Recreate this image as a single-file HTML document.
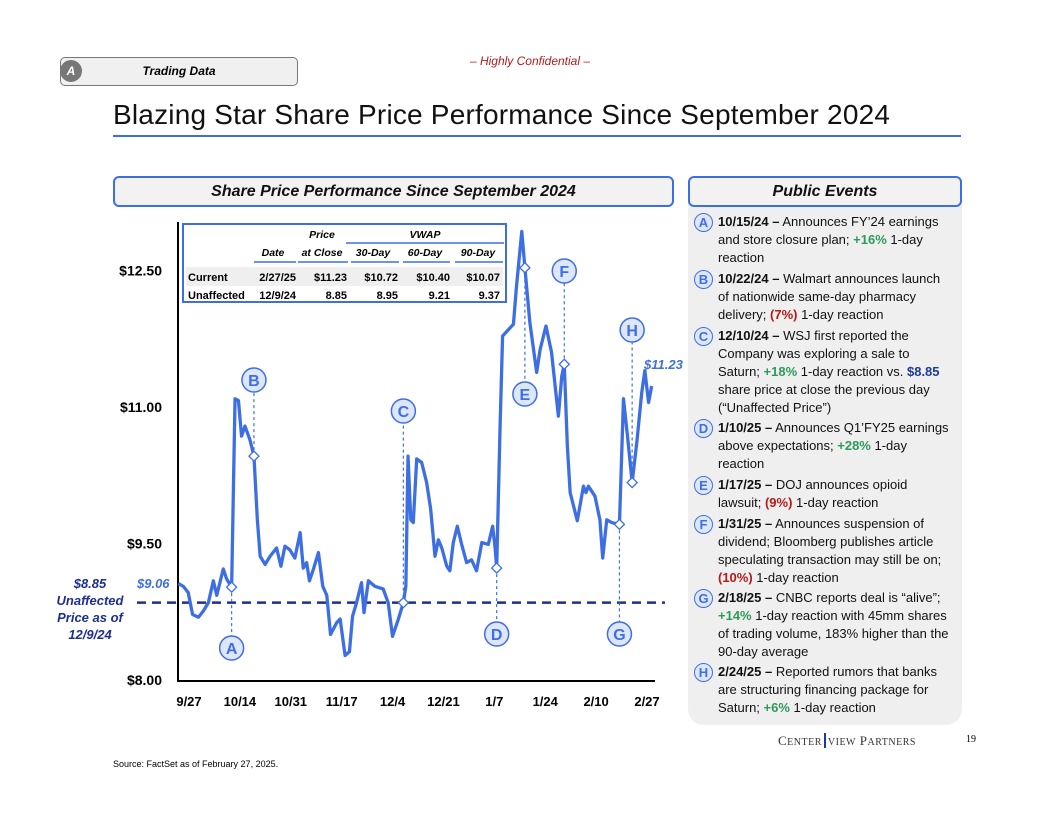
<!DOCTYPE html>
<html><head><meta charset="utf-8"><style>
body{margin:0;width:1056px;height:816px;position:relative;background:#fff;font-family:"Liberation Sans",sans-serif;overflow:hidden}
.abs{position:absolute}
.hdr{position:absolute;border:2px solid #3d6fe3;border-radius:6px;background:#f2f2f2;font-weight:bold;font-style:italic;font-size:16px;text-align:center;box-sizing:border-box;color:#111}
.ev{position:absolute;left:718px;font-size:13px;line-height:18px;white-space:nowrap;color:#111}
.ev b{font-weight:bold}
.circ{position:absolute;left:694px;width:17px;height:17px;border:1.5px solid #3d6fe3;border-radius:50%;background:#dde6fb;color:#3d6fe3;font-weight:bold;font-size:13px;text-align:center;line-height:17px}
.g{color:#2e9a5a;font-weight:bold}.r{color:#b31b1b;font-weight:bold}.bl{color:#1d3b9c;font-weight:bold}
</style></head><body>
<div class="abs" style="left:60px;top:57px;width:238px;height:29px;border:1.5px solid #777;border-radius:5px;background:#f0f0f0;box-sizing:border-box;font-weight:bold;font-style:italic;font-size:12px;text-align:center;line-height:26px">Trading Data</div>
<div class="abs" style="left:60px;top:60px;width:22px;height:22px;border-radius:50%;background:#777;color:#fff;font-weight:bold;font-style:italic;font-size:12px;text-align:center;line-height:22px">A</div>
<div class="abs" style="left:440px;top:54px;width:180px;text-align:center;color:#b31b1b;font-style:italic;font-size:12px">– Highly Confidential –</div>
<div class="abs" style="left:113px;top:99px;font-size:28px;letter-spacing:0.2px;color:#111;white-space:nowrap">Blazing Star Share Price Performance Since September 2024</div>
<div class="abs" style="left:113px;top:135px;width:848px;height:1.5px;background:#3d6fe3"></div>
<div class="hdr" style="left:113px;top:176px;width:561px;height:31px;line-height:27px">Share Price Performance Since September 2024</div>
<div class="abs" style="left:688px;top:200px;width:274px;height:525px;background:#efefef;border-radius:0 0 16px 16px"></div>
<div class="hdr" style="left:688px;top:176px;width:274px;height:31px;line-height:27px">Public Events</div>

<div class="circ" style="top:213px">A</div>
<div class="ev" style="top:213px"><b>10/15/24 –</b> Announces FY’24 earnings<br>and store closure plan; <span class="g">+16%</span> 1-day<br>reaction</div>
<div class="circ" style="top:270px">B</div>
<div class="ev" style="top:270px"><b>10/22/24 –</b> Walmart announces launch<br>of nationwide same-day pharmacy<br>delivery; <span class="r">(7%)</span> 1-day reaction</div>
<div class="circ" style="top:327px">C</div>
<div class="ev" style="top:327px"><b>12/10/24 –</b> WSJ first reported the<br>Company was exploring a sale to<br>Saturn; <span class="g">+18%</span> 1-day reaction vs. <span class="bl">$8.85</span><br>share price at close the previous day<br>(“Unaffected Price”)</div>
<div class="circ" style="top:419px">D</div>
<div class="ev" style="top:419px"><b>1/10/25 –</b> Announces Q1’FY25 earnings<br>above expectations; <span class="g">+28%</span> 1-day<br>reaction</div>
<div class="circ" style="top:476px">E</div>
<div class="ev" style="top:476px"><b>1/17/25 –</b> DOJ announces opioid<br>lawsuit; <span class="r">(9%)</span> 1-day reaction</div>
<div class="circ" style="top:515px">F</div>
<div class="ev" style="top:515px"><b>1/31/25 –</b> Announces suspension of<br>dividend; Bloomberg publishes article<br>speculating transaction may still be on;<br><span class="r">(10%)</span> 1-day reaction</div>
<div class="circ" style="top:589px">G</div>
<div class="ev" style="top:589px"><b>2/18/25 –</b> CNBC reports deal is “alive”;<br><span class="g">+14%</span> 1-day reaction with 45mm shares<br>of trading volume, 183% higher than the<br>90-day average</div>
<div class="circ" style="top:663px">H</div>
<div class="ev" style="top:663px"><b>2/24/25 –</b> Reported rumors that banks<br>are structuring financing package for<br>Saturn; <span class="g">+6%</span> 1-day reaction</div>

<div class="abs" style="left:778px;top:733px;font-family:'Liberation Serif',serif;font-size:13px;letter-spacing:0.5px;color:#333">C<span style="font-size:10px">ENTER</span><span style="border-left:2px solid #1d3b9c;margin:0 2px"></span><span style="font-size:10px">VIEW</span> P<span style="font-size:10px">ARTNERS</span></div>
<div class="abs" style="left:966px;top:734px;font-family:'Liberation Serif',serif;font-size:10px">19</div>
<div class="abs" style="left:113px;top:759px;font-size:9px">Source: FactSet as of February 27, 2025.</div>

<svg id="chart" class="abs" style="left:0;top:0" width="1056" height="816"></svg>
<script>
const days=[0.1,1.7,3.3,4.7,6.6,8.2,9.8,11.4,12.5,14.6,15.7,17.3,18.4,19.5,20.5,21.6,23.2,24.5,25.6,26.5,28.1,29.7,31.8,33.2,34.5,36.1,37.7,39.4,40.4,41.5,42.4,43.7,45.3,46.7,48,49.2,51.2,52.3,53.9,55.3,56.3,57.6,59.2,60,61.4,63.5,66.2,67.8,69.2,71.1,72.7,73.5,74.2,75.1,75.9,77,78.6,80.2,81.5,82.9,84,85.1,86.7,87.7,88.8,90.1,91.5,93.1,94.7,96.3,98,100.1,101.5,102.3,102.8,103.9,104.7,106.6,108.2,109.2,110.9,111.9,113.5,115.7,116.8,118.7,120.5,122.7,123.8,124.6,125.6,126.5,128.8,130.8,131.6,132.4,134.5,136.1,137,138.3,139.9,142.4,143.7,145,146.5,148,149.6,150.6,151.8,152.8];
const prices=[9.06,9.03,8.96,8.72,8.69,8.76,8.85,9.09,8.93,9.22,9.11,9.02,11.09,11.07,10.68,10.79,10.64,10.46,9.76,9.36,9.27,9.36,9.45,9.25,9.47,9.43,9.34,9.62,9.23,9.29,9.09,9.22,9.40,9.03,8.93,8.50,8.63,8.67,8.27,8.31,8.70,8.85,9.07,8.74,9.09,9.03,9.00,8.85,8.48,8.67,8.85,9.03,10.46,9.76,9.73,10.43,10.39,10.17,9.88,9.36,9.54,9.45,9.25,9.20,9.51,9.69,9.49,9.29,9.32,9.20,9.51,9.49,9.69,9.45,9.23,10.79,11.78,11.85,11.91,12.33,12.93,12.53,11.93,11.38,11.63,11.89,11.60,10.90,11.34,11.47,10.57,10.06,9.75,10.13,10.06,10.13,10.02,9.76,9.34,9.76,9.73,9.71,11.09,10.68,10.17,10.61,11.16,11.40,11.05,11.23];
const yTicks=[8.00,9.50,11.00,12.50];
const xTickLabels=['9/27','10/14','10/31','11/17','12/4','12/21','1/7','1/24','2/10','2/27'];
const xTickDays=[0,17,34,51,68,85,102,119,136,153];
const eventLetters=['A','B','C','D','E','F','G','H'];
const eventDays=[17.3,24.5,72.7,102.8,111.9,124.6,142.4,146.5];
const unaffected=8.85;
const tableRows=[['Current','2/27/25','$11.23','$10.72','$10.40','$10.07'],['Unaffected','12/9/24','8.85','8.95','9.21','9.37']];

const X=d=>178+d*3.1, Y=p=>680-(p-8)*91;
const XL=d=>189+d*(458/153);
const svg=document.getElementById('chart'),NS='http://www.w3.org/2000/svg';
function mk(tag,attrs,txt){const e=document.createElementNS(NS,tag);for(const k in attrs)e.setAttribute(k,attrs[k]);if(txt!==undefined)e.textContent=txt;svg.appendChild(e);return e;}
const BLUE='#3d6fe3',NAVY='#1d2f8f';
let a=mk('path',{d:'M178,222V681H655',fill:'none',stroke:'#000','stroke-width':2});

yTicks.forEach(v=>{const t=mk('text',{x:162,y:Y(v)+5,'text-anchor':'end','font-size':14,'font-weight':'bold','font-family':'Liberation Sans'},'$'+v.toFixed(2));
});
xTickLabels.forEach((l,i)=>{const t=mk('text',{x:XL(xTickDays[i]),y:706,'text-anchor':'middle','font-size':13,'font-weight':'bold','font-family':'Liberation Sans'},l);
});
let ul=mk('line',{x1:137,x2:665,y1:Y(unaffected),y2:Y(unaffected),stroke:NAVY,'stroke-width':2.5,'stroke-dasharray':'9,6'});

const labelY={A:648,B:380,C:411,D:634,E:394,F:271,G:634,H:330};
function priceAt(d){let best=0;days.forEach((v,i)=>{if(Math.abs(v-d)<Math.abs(days[best]-d))best=i;});return prices[best];}
eventLetters.forEach((L,i)=>{const x=X(eventDays[i]),y=Y(priceAt(eventDays[i]));
const c=mk('line',{x1:x,x2:x,y1:y,y2:labelY[L],stroke:BLUE,'stroke-width':1.2,'stroke-dasharray':'3,3'});
});
const pl=mk('polyline',{points:days.map((d,i)=>X(d)+','+Y(prices[i])).join(' '),fill:'none',stroke:BLUE,'stroke-width':3.3,'stroke-linejoin':'round'});

eventLetters.forEach((L,i)=>{const x=X(eventDays[i]),y=Y(priceAt(eventDays[i]));
const dm=mk('path',{d:`M${x},${y-5}L${x+5},${y}L${x},${y+5}L${x-5},${y}Z`,fill:'#fff',stroke:BLUE,'stroke-width':1.3});

const cc=mk('circle',{cx:x,cy:labelY[L],r:12,fill:'#dde6fb',stroke:BLUE,'stroke-width':1.5});

const t=mk('text',{x:x,y:labelY[L]+6,'text-anchor':'middle','font-size':16,'font-weight':'bold',fill:BLUE,'font-family':'Liberation Sans'},L);
});
let s=mk('text',{x:137,y:588,'font-size':13,'font-weight':'bold','font-style':'italic',fill:BLUE,'font-family':'Liberation Sans'},'$'+prices[0].toFixed(2));

s=mk('text',{x:644,y:369,'font-size':13,'font-weight':'bold','font-style':'italic',fill:BLUE,'font-family':'Liberation Sans'},'$'+prices[prices.length-1].toFixed(2));

['$'+unaffected.toFixed(2),'Unaffected','Price as of','12/9/24'].forEach((l,i)=>{const t=mk('text',{x:90,y:588+i*17,'text-anchor':'middle','font-size':13,'font-weight':'bold','font-style':'italic',fill:NAVY,'font-family':'Liberation Sans'},l);
});
let r=mk('rect',{x:183,y:224,width:323,height:78,fill:'#fff',stroke:BLUE,'stroke-width':2});

mk('rect',{x:186,y:267,width:317,height:19,fill:'#efefef'});
const colX=[188,273,322,373,425,478];
const hdr=(x,y,t)=>{const e=mk('text',{x:x,y:y,'text-anchor':'middle','font-size':10.5,'font-weight':'bold','font-style':'italic','font-family':'Liberation Sans'},t);};
hdr(322,238,'Price');hdr(425,238,'VWAP');
['Date','at Close','30-Day','60-Day','90-Day'].forEach((h,i)=>hdr(colX[i+1],256,h));
mk('line',{x1:346,x2:504,y1:243,y2:243,stroke:BLUE,'stroke-width':1.5});
[[254,296],[298,348],[351,399],[403,450],[455,503]].forEach(p=>mk('line',{x1:p[0],x2:p[1],y1:262,y2:262,stroke:BLUE,'stroke-width':1.5}));
tableRows.forEach((row,ri)=>row.forEach((v,ci)=>{const right=[188,296,347,398,450,500];
const t=mk('text',{x:right[ci],y:281+ri*18,'text-anchor':ci===0?'start':'end','font-size':11,'font-weight':'bold','font-family':'Liberation Sans'},v);
}));
</script>
</body></html>
